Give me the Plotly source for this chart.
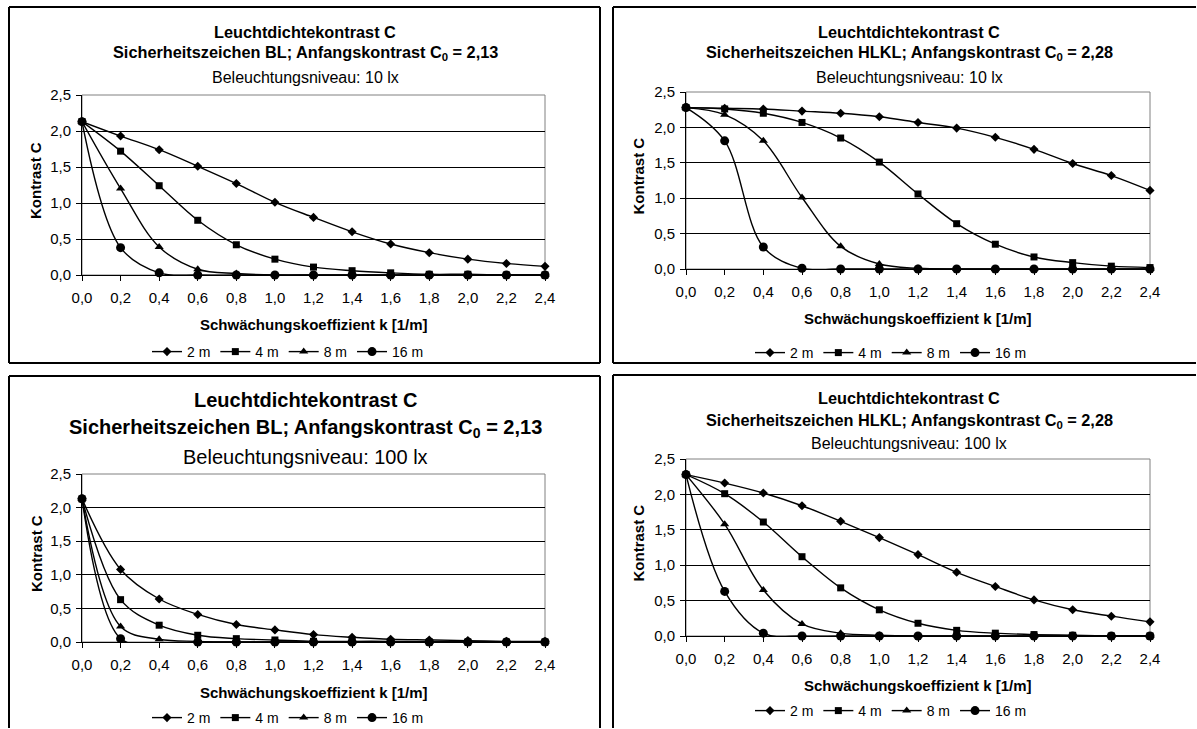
import plotly.graph_objects as go

# ---------------- data ----------------
k_values = [0.0, 0.2, 0.4, 0.6, 0.8, 1.0, 1.2, 1.4, 1.6, 1.8, 2.0, 2.2, 2.4]
series_names = ["2 m", "4 m", "8 m", "16 m"]

# Panel 1: BL, 10 lx
bl10_2m = [2.13, 1.93, 1.74, 1.51, 1.27, 1.01, 0.80, 0.60, 0.43, 0.31, 0.22, 0.16, 0.12]
bl10_4m = [2.13, 1.72, 1.24, 0.76, 0.42, 0.22, 0.11, 0.06, 0.03, 0.01, 0.01, 0.00, 0.00]
bl10_8m = [2.13, 1.20, 0.39, 0.08, 0.02, 0.00, 0.00, 0.00, 0.00, 0.00, 0.00, 0.00, 0.00]
bl10_16m = [2.13, 0.38, 0.03, 0.00, 0.00, 0.00, 0.00, 0.00, 0.00, 0.00, 0.00, 0.00, 0.00]

# Panel 2: HLKL, 10 lx
hl10_2m = [2.28, 2.27, 2.26, 2.23, 2.20, 2.15, 2.07, 1.99, 1.86, 1.69, 1.49, 1.32, 1.11]
hl10_4m = [2.28, 2.26, 2.20, 2.07, 1.85, 1.51, 1.06, 0.64, 0.35, 0.17, 0.09, 0.04, 0.02]
hl10_8m = [2.28, 2.18, 1.81, 1.01, 0.32, 0.07, 0.01, 0.00, 0.00, 0.00, 0.00, 0.00, 0.00]
hl10_16m = [2.28, 1.81, 0.31, 0.01, 0.00, 0.00, 0.00, 0.00, 0.00, 0.00, 0.00, 0.00, 0.00]

# Panel 3: BL, 100 lx
bl100_2m = [2.13, 1.08, 0.64, 0.41, 0.26, 0.18, 0.11, 0.07, 0.04, 0.03, 0.02, 0.01, 0.01]
bl100_4m = [2.13, 0.63, 0.25, 0.10, 0.05, 0.03, 0.01, 0.01, 0.01, 0.00, 0.00, 0.00, 0.00]
bl100_8m = [2.13, 0.23, 0.04, 0.01, 0.00, 0.00, 0.00, 0.00, 0.00, 0.00, 0.00, 0.00, 0.00]
bl100_16m = [2.13, 0.05, -0.02, 0.00, 0.00, 0.00, 0.00, 0.00, 0.00, 0.00, 0.00, 0.00, 0.00]

# Panel 4: HLKL, 100 lx
hl100_2m = [2.28, 2.16, 2.02, 1.84, 1.62, 1.39, 1.15, 0.90, 0.70, 0.51, 0.37, 0.28, 0.20]
hl100_4m = [2.28, 2.01, 1.61, 1.12, 0.68, 0.37, 0.18, 0.08, 0.04, 0.02, 0.01, 0.00, 0.00]
hl100_8m = [2.28, 1.58, 0.65, 0.17, 0.04, 0.01, 0.00, 0.00, 0.00, 0.00, 0.00, 0.00, 0.00]
hl100_16m = [2.28, 0.63, 0.04, 0.00, 0.00, 0.00, 0.00, 0.00, 0.00, 0.00, 0.00, 0.00, 0.00]

panel_titles = [
    ("Sicherheitszeichen BL; Anfangskontrast C<sub>0</sub> = 2,13", "Beleuchtungsniveau: 10 lx"),
    ("Sicherheitszeichen HLKL; Anfangskontrast C<sub>0</sub> = 2,28", "Beleuchtungsniveau: 10 lx"),
    ("Sicherheitszeichen BL; Anfangskontrast C<sub>0</sub> = 2,13", "Beleuchtungsniveau: 100 lx"),
    ("Sicherheitszeichen HLKL; Anfangskontrast C<sub>0</sub> = 2,28", "Beleuchtungsniveau: 100 lx"),
]
main_title = "Leuchtdichtekontrast C"
x_title = "Schwächungskoeffizient k [1/m]"
y_title = "Kontrast C"

panel_data = [
    [bl10_2m, bl10_4m, bl10_8m, bl10_16m],
    [hl10_2m, hl10_4m, hl10_8m, hl10_16m],
    [bl100_2m, bl100_4m, bl100_8m, bl100_16m],
    [hl100_2m, hl100_4m, hl100_8m, hl100_16m],
]

# ---------------- layout geometry (pixels) ----------------
W, H = 1197, 729
FONT = "Arial, Liberation Sans, sans-serif"

plot_px = [  # x0, x1, ytop, ybottom
    (82, 545, 95, 275),
    (686, 1150, 92, 269),
    (82, 545, 474, 642),
    (686, 1150, 459, 636),
]
# panel frames: x0, x1, y0, y1 (None = edge outside the picture)
box_px = [
    (9, 600, 7, 363),
    (613, None, 7, 363),
    (9, 600, 376, None),
    (613, None, 375, None),
]
title_px = [  # x center, y of three lines, bold size, normal size
    (305, (32, 53, 78), 16.3, 16),
    (909, (32, 53, 78), 16.3, 16),
    (305, (400, 428, 457), 20, 20),
    (909, (398, 421, 443), 16.3, 16),
]
xtitle_y = [324, 318, 692, 685]
ytitle_x = [36, 638, 36, 638]
legend_pos = [(288, 352), (891, 353), (288, 718), (891, 711)]


def px_x(p):
    return min(max(p, 1.0), W - 1.0) / W


def px_y(p):
    return 1 - min(max(p, 1.0), H - 1.0) / H


symbols = ["diamond", "square", "triangle-up", "circle"]
sizes = [7, 7, 8, 9]

fig = go.Figure()
annotations = []
shapes = []


def frame_line(xa, ya, xb, yb):
    shapes.append(dict(type="line", xref="paper", yref="paper",
                       x0=px_x(xa), y0=px_y(ya), x1=px_x(xb), y1=px_y(yb),
                       line=dict(color="black", width=2)))


for i in range(4):
    ax = "" if i == 0 else str(i + 1)
    leg = "legend" if i == 0 else f"legend{i + 1}"
    for j, name in enumerate(series_names):
        fig.add_trace(go.Scatter(
            x=k_values, y=panel_data[i][j], name=name,
            mode="lines+markers",
            line=dict(color="black", width=1.4, shape="spline", smoothing=1.0),
            marker=dict(symbol=symbols[j], size=sizes[j], color="black"),
            xaxis="x" + ax, yaxis="y" + ax, legend=leg, cliponaxis=False,
        ))
    x0, x1, yt, yb = plot_px[i]
    axis_common = dict(
        showline=True, linecolor="black", linewidth=1,
        ticks="outside", ticklen=5, tickcolor="black", tickwidth=1,
        tickfont=dict(family=FONT, size=15, color="black"),
        tickformat=".1f", zeroline=False, fixedrange=True,
    )
    fig.layout["xaxis" + ax] = dict(
        domain=[px_x(x0), px_x(x1)], anchor="y" + ax,
        range=[0, 2.4], tick0=0, dtick=0.2, showgrid=False,
        ticklabelstandoff=4, **axis_common,
    )
    fig.layout["yaxis" + ax] = dict(
        domain=[px_y(yb), px_y(yt)], anchor="x" + ax,
        range=[0, 2.5], tick0=0, dtick=0.5, showgrid=True,
        gridcolor="black", gridwidth=1, ticklabelstandoff=2, **axis_common,
    )
    shapes.append(dict(type="rect", xref=f"x{ax} domain", yref=f"y{ax} domain",
                       x0=0, x1=1, y0=0, y1=1, line=dict(color="#808080", width=1),
                       layer="below"))
    bx0, bx1, by0, by1 = box_px[i]
    right = bx1 if bx1 is not None else 1300
    bottom = by1 if by1 is not None else 800
    frame_line(bx0, by0, right, by0)          # top
    frame_line(bx0, by0, bx0, bottom)         # left
    if bx1 is not None:
        frame_line(bx1, by0, bx1, bottom)     # right
    if by1 is not None:
        frame_line(bx0, by1, right, by1)      # bottom
    tx, tys, fb, fn = title_px[i]
    texts = ["<b>" + main_title + "</b>", "<b>" + panel_titles[i][0] + "</b>", panel_titles[i][1]]
    for t, ty, f in zip(texts, tys, (fb, fb, fn)):
        annotations.append(dict(text=t, x=px_x(tx), y=px_y(ty), xref="paper", yref="paper",
                                xanchor="center", yanchor="middle", showarrow=False,
                                font=dict(family=FONT, size=f, color="black")))
    annotations.append(dict(text="<b>" + x_title + "</b>", x=px_x((x0 + x1) / 2), y=px_y(xtitle_y[i]),
                            xref="paper", yref="paper", xanchor="center", yanchor="middle",
                            showarrow=False, font=dict(family=FONT, size=15, color="black")))
    annotations.append(dict(text="<b>" + y_title + "</b>", x=px_x(ytitle_x[i]), y=px_y((yt + yb) / 2 - 4),
                            xref="paper", yref="paper", xanchor="center", yanchor="middle",
                            textangle=-90, showarrow=False,
                            font=dict(family=FONT, size=15, color="black")))
    lx, ly = legend_pos[i]
    fig.layout[leg] = dict(
        orientation="h", x=px_x(lx), y=px_y(ly), xanchor="center", yanchor="middle",
        font=dict(family=FONT, size=14, color="black"), bgcolor="rgba(0,0,0,0)",
        itemwidth=30, itemclick=False, itemdoubleclick=False,
    )

fig.update_layout(
    width=W, height=H, margin=dict(l=0, r=0, t=0, b=0, autoexpand=False),
    paper_bgcolor="white", plot_bgcolor="white",
    separators=",.", showlegend=True,
    annotations=annotations, shapes=shapes,
    font=dict(family=FONT, color="black"),
)

fig.write_html(
    "out.html",
    config={"displayModeBar": False},
    post_script="document.body.style.margin='0';document.body.style.padding='0';document.body.style.overflow='hidden';",
)
